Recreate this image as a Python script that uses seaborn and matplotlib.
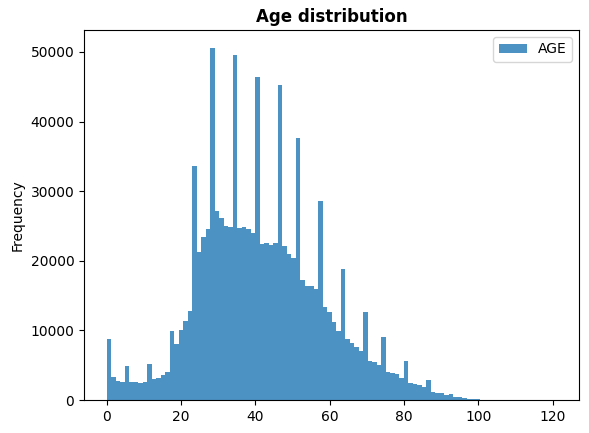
import numpy as np
import pandas as pd
import matplotlib
matplotlib.use("Agg")
import matplotlib.pyplot as plt
import seaborn as sns
from matplotlib.patches import Patch

# histogram of AGE: 100 equal bins from 0 to 121, counts
age_min = 0
age_max = 121
n_bins = 100
counts = [
    8700, 3300, 2770, 2630, 4870, 2600, 2600, 2490, 2630, 5150,
    3060, 3200, 3630, 4060, 9930, 8070, 10080, 11370, 12800, 33670,
    21250, 23400, 24550, 50620, 27120, 26120, 24970, 24830, 49610, 24690,
    24830, 24550, 23970, 46470, 22400, 22540, 22260, 22540, 45180, 22110,
    20960, 20390, 37580, 17240, 16380, 16380, 15950, 28560, 13370, 12650,
    11220, 9930, 18810, 8790, 8210, 7640, 7060, 12650, 5630, 5490,
    5060, 9070, 4060, 3910, 3770, 3180, 5600, 2440, 2290, 2150,
    1860, 2870, 1150, 1000, 1000, 720, 860, 430, 430, 270,
    210, 150, 80, 50, 30, 20, 12, 8, 5, 3,
    2, 2, 1, 1, 1, 1, 1, 1, 1, 1,
]

edges = np.linspace(age_min, age_max, n_bins + 1)
centers = (edges[:-1] + edges[1:]) / 2
df = pd.DataFrame({"AGE": centers, "count": counts})

fig = plt.figure(figsize=(5.89, 4.33), dpi=100)
ax = fig.add_axes([84 / 589, 1 - 400 / 433, 495 / 589, 370 / 433])

sns.histplot(data=df, x="AGE", weights="count", bins=n_bins,
             binrange=(age_min, age_max), color="C0", alpha=0.8,
             linewidth=0, ax=ax)

ax.set_title("Age distribution", fontweight="bold")
ax.set_ylabel("Frequency")
ax.set_xlabel("")
ax.set_xticks(range(0, 121, 20))
ax.legend(handles=[Patch(facecolor="C0", alpha=0.8, label="AGE")],
          loc="upper right")

fig.savefig("out.png", dpi=100)
